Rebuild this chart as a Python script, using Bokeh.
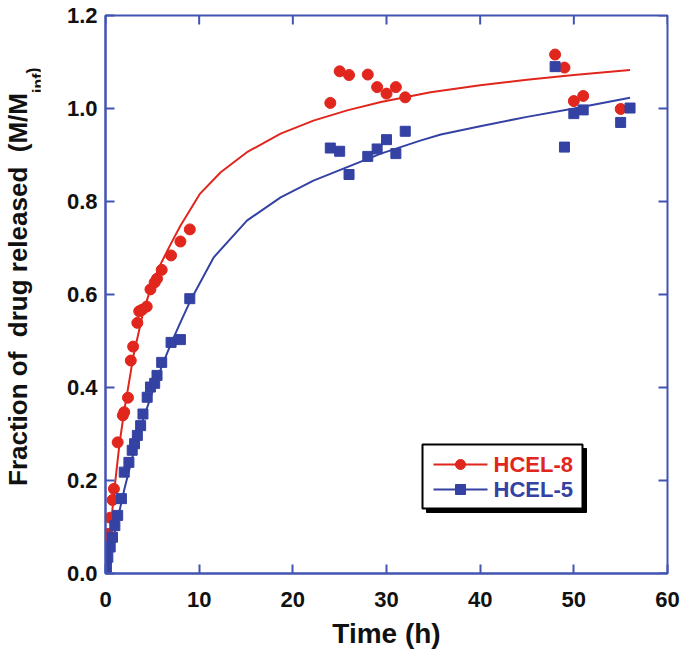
from bokeh.plotting import figure
from bokeh.models import Range1d, FixedTicker, NumeralTickFormatter, Label, Div
from bokeh.layouts import row
from bokeh.embed import file_html
from bokeh.resources import INLINE

# ---------------- data ----------------
series_names = ["HCEL-8", "HCEL-5"]

t8 = [0, 0.1, 0.25, 0.5, 0.75, 0.9, 1.3, 1.85, 2.0, 2.4, 2.7, 2.95, 3.4, 3.6, 3.9,
      4.4, 4.8, 5.25, 5.5, 6.0, 7.0, 8.0, 9.0,
      24, 25, 26, 28, 29, 30, 31, 32, 48, 49, 50, 51, 55]
f8 = [0.025, 0.06, 0.085, 0.12, 0.158, 0.182, 0.282, 0.340, 0.347, 0.378, 0.458, 0.488, 0.539, 0.564, 0.567,
      0.574, 0.611, 0.626, 0.634, 0.653, 0.684, 0.714, 0.740,
      1.012, 1.080, 1.072, 1.073, 1.046, 1.032, 1.046, 1.024, 1.116, 1.088, 1.016, 1.027, 0.999]

t5 = [0, 0.1, 0.25, 0.5, 0.75, 1.0, 1.3, 1.7, 2.0, 2.5, 2.85, 3.1, 3.4, 3.75, 4.0,
      4.45, 4.8, 5.25, 5.5, 6.0, 7.0, 8.0, 9.0,
      24, 25, 26, 28, 29, 30, 31, 32, 48, 49, 50, 51, 55, 56]
f5 = [0.0, 0.014, 0.035, 0.057, 0.078, 0.103, 0.125, 0.161, 0.218, 0.239, 0.265, 0.279, 0.297, 0.318, 0.343,
      0.379, 0.401, 0.409, 0.426, 0.454, 0.497, 0.503, 0.591,
      0.915, 0.908, 0.858, 0.897, 0.913, 0.933, 0.903, 0.951, 1.090, 0.917, 0.989, 0.997, 0.970, 1.001]

# fitted curves
fit8_t = [0, 0.5, 1, 1.5, 2, 2.5, 3, 4, 5, 6, 7, 8, 10.1, 12.3, 15.1, 18.7, 22.2, 25.8, 29.4,
          34.7, 40, 45, 50, 56]
fit8_f = [0, 0.09, 0.19, 0.28, 0.35, 0.41, 0.47, 0.56, 0.625, 0.67, 0.71, 0.748, 0.817, 0.863, 0.906,
          0.946, 0.974, 0.996, 1.014, 1.035, 1.050, 1.062, 1.072, 1.083]
fit5_t = [0, 0.5, 1, 1.5, 2, 3, 4, 5, 6, 7, 8, 9.07, 11.56, 15.1, 18.7, 22.2, 25.8, 29.4, 33.6,
          35.8, 40, 45, 50, 56]
fit5_f = [0, 0.045, 0.09, 0.135, 0.18, 0.26, 0.33, 0.39, 0.445, 0.495, 0.54, 0.587, 0.68, 0.759, 0.809,
          0.845, 0.874, 0.903, 0.931, 0.944, 0.962, 0.982, 1.0, 1.023]

x_ticks = [0, 10, 20, 30, 40, 50, 60]
y_ticks = [0.0, 0.2, 0.4, 0.6, 0.8, 1.0, 1.2]
x_title = "Time (h)"
y_title_main = "Fraction of&nbsp; drug released&nbsp; (M/M"
y_title_sub = "inf"
y_title_end = ")"

# ---------------- style ----------------
RED = "#e0261d"
BLUE = "#3442a3"
FRAME = "#4254b2"
INK = "#111111"
FONT = "Liberation Sans"
XMIN, XMAX, YMIN, YMAX = 0, 60, 0, 1.2
TICK = 9            # inward tick length, px
FW, FH = 562, 558   # frame size, px
DIV_W = 40

p = figure(width=685 - DIV_W, height=657, x_range=Range1d(XMIN, XMAX), y_range=Range1d(YMIN, YMAX),
           output_backend="svg", toolbar_location=None,
           min_border_left=105 - DIV_W, min_border_right=18, min_border_top=15, min_border_bottom=84)
p.grid.visible = False
p.outline_line_color = FRAME
p.outline_line_width = 2
p.background_fill_color = "white"
p.border_fill_color = "white"

for ax in (p.xaxis[0], p.yaxis[0]):
    ax.axis_line_color = FRAME
    ax.axis_line_width = 2
    ax.major_tick_line_color = FRAME
    ax.major_tick_line_width = 2
    ax.major_tick_in = TICK
    ax.major_tick_out = 0
    ax.minor_tick_line_color = None
    ax.major_label_text_font = FONT
    ax.major_label_text_font_style = "bold"
    ax.major_label_text_font_size = "22px"
    ax.major_label_text_color = INK

p.xaxis[0].ticker = FixedTicker(ticks=x_ticks)
p.xaxis[0].formatter = NumeralTickFormatter(format="0")
p.xaxis[0].major_label_standoff = 18
p.xaxis[0].axis_label = x_title
p.xaxis[0].axis_label_text_font = FONT
p.xaxis[0].axis_label_text_font_style = "bold"
p.xaxis[0].axis_label_text_font_size = "28px"
p.xaxis[0].axis_label_text_color = INK
p.xaxis[0].axis_label_standoff = 8

p.yaxis[0].ticker = FixedTicker(ticks=y_ticks)
p.yaxis[0].formatter = NumeralTickFormatter(format="0.0")
p.yaxis[0].major_label_standoff = 8

# inward ticks on the top and right edges of the frame
dy = TICK * (YMAX - YMIN) / FH
dx = TICK * (XMAX - XMIN) / FW
p.segment(x0=x_ticks, y0=[YMAX] * len(x_ticks), x1=x_ticks, y1=[YMAX - dy] * len(x_ticks),
          line_color=FRAME, line_width=2)
p.segment(x0=[XMAX] * len(y_ticks), y0=y_ticks, x1=[XMAX - dx] * len(y_ticks), y1=y_ticks,
          line_color=FRAME, line_width=2)

# curves and points
p.line(fit8_t, fit8_f, line_color=RED, line_width=2)
p.line(fit5_t, fit5_f, line_color=BLUE, line_width=2)
p.scatter(t8, f8, marker="circle", size=11, fill_color=RED, line_color=RED)
p.scatter(t5, f5, marker="square", size=10, fill_color=BLUE, line_color=BLUE)

# ---------------- layout helpers: page pixel -> data coords (legend only) ----------------
def X(px):
    return (px - 105) * (XMAX - XMIN) / FW

def Y(py):
    return (573 - py) * (YMAX - YMIN) / FH

# legend box with shadow
p.quad(left=[X(426)], right=[X(586)], top=[Y(448)], bottom=[Y(512)], fill_color="black", line_color="black")
p.quad(left=[X(422)], right=[X(582)], top=[Y(444)], bottom=[Y(508)], fill_color="white",
       line_color="black", line_width=2)
legend_y = [464, 489]
colors = [RED, BLUE]
markers = ["circle", "square"]
for name, c, m, ly in zip(series_names, colors, markers, legend_y):
    p.line([X(433), X(487)], [Y(ly), Y(ly)], line_color=c, line_width=2)
    p.scatter([X(460)], [Y(ly)], marker=m, size=10, fill_color=c, line_color=c)
    p.add_layout(Label(x=X(493), y=Y(ly), text=name, text_color=c, text_font=FONT,
                       text_font_style="bold", text_font_size="22px", text_baseline="middle",
                       text_align="left"))

# y-axis title (rotated HTML text with a subscript)
ytitle_html = (
    f'<div style="position:relative;width:{DIV_W}px;height:657px;overflow:visible;">'
    f'<div style="position:absolute;left:3px;top:486px;transform:rotate(-90deg);'
    f'transform-origin:left top;white-space:nowrap;font-family:\'{FONT}\';font-weight:bold;'
    f'font-size:26px;line-height:31px;color:{INK};">'
    f'{y_title_main}<span style="font-size:16px;position:relative;top:17px;">{y_title_sub}</span>'
    f'<span style="font-size:18px;position:relative;top:12px;">{y_title_end}</span>'
    f'</div></div>'
)
ydiv = Div(text=ytitle_html, width=DIV_W, height=657, margin=0)

layout = row(ydiv, p, spacing=0)
open("out.html", "w").write(file_html(layout, INLINE))
